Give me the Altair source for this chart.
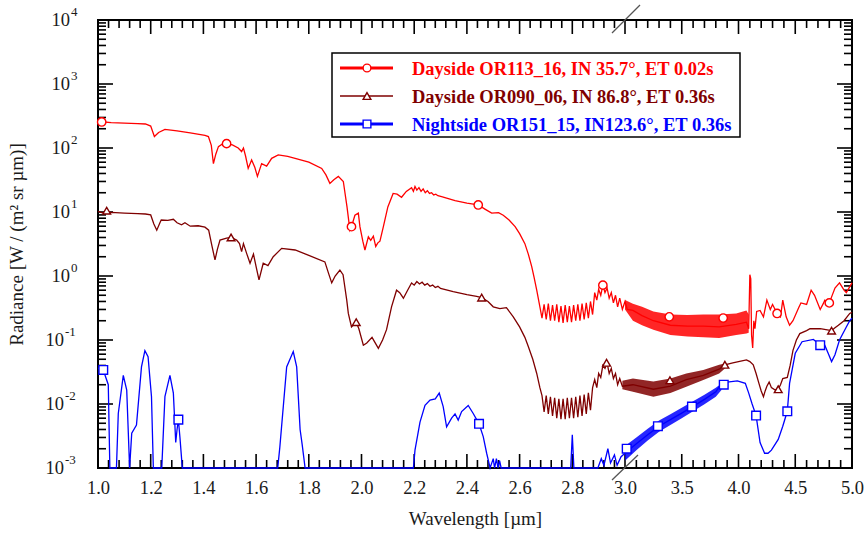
import altair as alt
import pandas as pd

# ---------------- data (wavelength um, radiance) ----------------
RED = [
    (1.00, 255), (1.014, 257), (1.05, 250), (1.10, 245), (1.15, 240), (1.18, 237), (1.20, 220),
    (1.214, 151), (1.23, 175), (1.254, 195), (1.30, 185), (1.35, 172), (1.406, 158), (1.419, 151),
    (1.43, 110), (1.438, 57), (1.447, 80), (1.457, 105), (1.475, 118), (1.488, 117), (1.51, 112),
    (1.532, 100), (1.545, 88), (1.552, 100), (1.56, 75), (1.57, 48), (1.583, 65), (1.595, 50),
    (1.605, 36), (1.621, 57), (1.64, 52), (1.659, 69), (1.684, 78), (1.72, 74), (1.748, 69),
    (1.80, 60), (1.849, 48), (1.865, 38), (1.88, 28), (1.895, 32), (1.912, 36), (1.931, 30),
    (1.945, 12), (1.956, 5.2), (1.962, 5.9), (1.975, 8.9), (1.988, 9.6), (1.994, 5.9), (2.005, 3.5),
    (2.013, 2.55), (2.026, 4.1), (2.035, 3.6), (2.045, 4.2), (2.054, 2.9), (2.062, 3.3), (2.07, 3.5),
    (2.083, 5.9), (2.10, 12), (2.12, 19.5), (2.135, 19), (2.152, 17), (2.17, 21), (2.19, 24),
    (2.197, 21), (2.203, 25), (2.21, 22), (2.218, 24), (2.226, 21), (2.234, 23), (2.242, 20),
    (2.25, 21.5), (2.258, 19.5), (2.266, 20), (2.274, 18.5), (2.282, 19), (2.29, 18), (2.304, 17.4),
    (2.355, 15), (2.40, 13.8), (2.443, 12.9), (2.47, 11), (2.494, 9.6), (2.52, 9.8), (2.538, 8.9),
    (2.56, 7.5), (2.583, 5.9), (2.60, 4.6), (2.62, 3.2), (2.633, 2.2), (2.646, 1.4), (2.655, 0.95),
    (2.665, 0.6), (2.677, 0.33),
    (2.685, 0.22), (2.693, 0.36), (2.701, 0.21), (2.709, 0.37), (2.717, 0.2), (2.725, 0.35),
    (2.733, 0.2), (2.741, 0.36), (2.749, 0.19), (2.757, 0.34), (2.765, 0.185), (2.773, 0.35),
    (2.781, 0.19), (2.789, 0.34), (2.797, 0.19), (2.805, 0.35), (2.813, 0.2), (2.821, 0.36),
    (2.829, 0.2), (2.837, 0.37), (2.845, 0.21), (2.853, 0.38), (2.861, 0.22), (2.869, 0.4),
    (2.877, 0.25), (2.885, 0.55), (2.893, 0.42), (2.90, 0.62), (2.908, 0.5), (2.916, 0.72),
    (2.924, 0.55), (2.932, 0.65), (2.94, 0.45), (2.948, 0.55), (2.956, 0.38), (2.964, 0.5),
    (2.972, 0.33), (2.98, 0.45), (2.99, 0.3), (3.0, 0.4), (3.02, 0.3),
    (3.07, 0.29), (3.15, 0.24), (3.25, 0.2), (3.4, 0.17), (3.55, 0.165), (3.69, 0.165), (3.83, 0.16),
    (3.98, 0.175), (4.07, 0.19),
    (4.09, 0.15), (4.10, 1.05), (4.108, 0.9), (4.115, 0.12), (4.125, 0.075), (4.135, 0.2),
    (4.145, 0.15), (4.16, 0.28), (4.19, 0.29), (4.22, 0.23), (4.25, 0.42), (4.28, 0.3), (4.30, 0.36),
    (4.34, 0.26), (4.37, 0.23), (4.39, 0.42), (4.42, 0.23), (4.45, 0.17), (4.48, 0.2), (4.53, 0.32),
    (4.55, 0.38), (4.60, 0.36), (4.64, 0.6), (4.67, 0.5), (4.72, 0.3), (4.75, 0.38), (4.76, 0.42),
    (4.80, 0.38), (4.85, 0.65), (4.89, 0.78), (4.93, 0.6), (4.95, 0.55), (5.0, 0.78),
]
RED_BAND_X = [3.0, 3.07, 3.15, 3.25, 3.4, 3.55, 3.69, 3.83, 3.98, 4.07, 4.09]
RED_BAND_LO = [0.3, 0.2, 0.17, 0.145, 0.12, 0.113, 0.11, 0.107, 0.12, 0.126, 0.13]
RED_BAND_HI = [0.42, 0.37, 0.33, 0.28, 0.25, 0.245, 0.25, 0.25, 0.26, 0.29, 0.25]
RED_MARKS = [(1.014, 255), (1.488, 117), (1.962, 5.9), (2.443, 12.9), (2.916, 0.72),
             (3.39, 0.23), (3.865, 0.22), (4.34, 0.26), (4.80, 0.38)]

BROWN = [
    (1.00, 10.2), (1.014, 9.8), (1.05, 9.9), (1.10, 9.6), (1.15, 9.4), (1.18, 9.3), (1.20, 9.0),
    (1.212, 6.5), (1.223, 5.2), (1.235, 6.8), (1.24, 7.5), (1.265, 7.4), (1.286, 7.7), (1.30, 6.8),
    (1.317, 6.3), (1.33, 6.8), (1.35, 6.0), (1.38, 6.1), (1.406, 5.8), (1.42, 5.2), (1.432, 3.0),
    (1.444, 1.78), (1.453, 2.6), (1.463, 3.65), (1.488, 3.9), (1.505, 4.0), (1.526, 3.65),
    (1.537, 3.2), (1.545, 2.4), (1.552, 3.2), (1.565, 2.2), (1.577, 1.58), (1.59, 2.2), (1.60, 1.4),
    (1.611, 0.87), (1.627, 1.58), (1.645, 1.45), (1.665, 2.0), (1.697, 2.7), (1.748, 2.55),
    (1.80, 2.1), (1.861, 1.66), (1.875, 1.1), (1.887, 0.78), (1.90, 1.0), (1.918, 1.24), (1.93, 1.05),
    (1.944, 0.42), (1.95, 0.26), (1.962, 0.16), (1.98, 0.19), (1.99, 0.15), (2.007, 0.083),
    (2.02, 0.09), (2.04, 0.11), (2.052, 0.09), (2.064, 0.074), (2.08, 0.1), (2.095, 0.145),
    (2.114, 0.33), (2.133, 0.6), (2.145, 0.55), (2.159, 0.45), (2.175, 0.6), (2.19, 0.78),
    (2.20, 0.72), (2.21, 0.82), (2.22, 0.75), (2.23, 0.8), (2.24, 0.72), (2.25, 0.76), (2.26, 0.69),
    (2.27, 0.72), (2.28, 0.66), (2.29, 0.69), (2.30, 0.64), (2.348, 0.57), (2.40, 0.51),
    (2.437, 0.48), (2.456, 0.46), (2.48, 0.4), (2.50, 0.33), (2.525, 0.31), (2.55, 0.32),
    (2.576, 0.23), (2.60, 0.16), (2.62, 0.11), (2.633, 0.079), (2.65, 0.05), (2.665, 0.03),
    (2.677, 0.018),
    (2.685, 0.0135), (2.693, 0.0075), (2.701, 0.0135), (2.709, 0.007), (2.717, 0.013),
    (2.725, 0.0065), (2.733, 0.0125), (2.741, 0.006), (2.749, 0.012), (2.757, 0.0058),
    (2.765, 0.012), (2.773, 0.0058), (2.781, 0.0125), (2.789, 0.006), (2.797, 0.0125),
    (2.805, 0.006), (2.813, 0.013), (2.821, 0.0062), (2.829, 0.0135), (2.837, 0.0065),
    (2.845, 0.014), (2.853, 0.007), (2.861, 0.015), (2.869, 0.008), (2.877, 0.018),
    (2.885, 0.024), (2.893, 0.018), (2.90, 0.03), (2.908, 0.026), (2.916, 0.04), (2.924, 0.036),
    (2.932, 0.044), (2.94, 0.03), (2.948, 0.036), (2.956, 0.025), (2.964, 0.03), (2.972, 0.02),
    (2.98, 0.025), (2.99, 0.019),
    (3.07, 0.02), (3.25, 0.017), (3.4, 0.019), (3.54, 0.024), (3.69, 0.028), (3.83, 0.035),
    (3.88, 0.041), (3.95, 0.044), (4.0, 0.046), (4.07, 0.049), (4.10, 0.046), (4.13, 0.041),
    (4.155, 0.03), (4.18, 0.021), (4.20, 0.016), (4.22, 0.013), (4.235, 0.016), (4.25, 0.019),
    (4.27, 0.022), (4.29, 0.018), (4.32, 0.0166), (4.35, 0.017), (4.37, 0.02), (4.39, 0.025),
    (4.43, 0.026), (4.455, 0.04), (4.48, 0.069), (4.51, 0.1), (4.54, 0.126), (4.60, 0.14),
    (4.63, 0.15), (4.68, 0.15), (4.72, 0.15), (4.77, 0.145), (4.82, 0.14), (4.85, 0.155),
    (4.88, 0.17), (4.93, 0.2), (4.98, 0.26), (5.0, 0.27),
]
BROWN_BAND_X = [2.99, 3.07, 3.25, 3.4, 3.54, 3.69, 3.83, 3.88]
BROWN_BAND_LO = [0.017, 0.0155, 0.013, 0.0148, 0.0186, 0.0237, 0.03, 0.036]
BROWN_BAND_HI = [0.023, 0.025, 0.0224, 0.025, 0.03, 0.034, 0.041, 0.043]
BROWN_MARKS = [(1.033, 10.5), (1.505, 4.0), (1.98, 0.19), (2.456, 0.46), (2.93, 0.044),
               (3.396, 0.0235), (3.88, 0.041), (4.35, 0.017), (4.82, 0.14)]

BLUE = [
    (1.00, 0.036), (1.02, 0.034), (1.039, 0.02), (1.045, 0.001), (1.07, 0.001), (1.077, 0.0071),
    (1.096, 0.028), (1.109, 0.0165), (1.12, 0.001), (1.128, 0.0035), (1.146, 0.0047), (1.165, 0.038),
    (1.178, 0.068), (1.19, 0.055), (1.203, 0.013), (1.21, 0.001), (1.242, 0.001), (1.254, 0.013),
    (1.273, 0.028), (1.286, 0.0148), (1.295, 0.0025), (1.30, 0.004), (1.305, 0.0057), (1.311, 0.003),
    (1.32, 0.001), (1.682, 0.001), (1.69, 0.0021), (1.716, 0.038), (1.741, 0.066), (1.754, 0.038),
    (1.767, 0.004), (1.775, 0.0023), (1.786, 0.001), (2.197, 0.001), (2.203, 0.0019),
    (2.222, 0.0052), (2.241, 0.0095), (2.26, 0.0115), (2.28, 0.012), (2.295, 0.0148),
    (2.31, 0.0091), (2.323, 0.0044), (2.342, 0.006), (2.355, 0.007), (2.367, 0.0056),
    (2.38, 0.0076), (2.405, 0.0095), (2.424, 0.0071), (2.446, 0.0049), (2.462, 0.0031),
    (2.475, 0.0017), (2.488, 0.001), (2.50, 0.0014), (2.505, 0.001), (2.512, 0.0014),
    (2.518, 0.001), (2.524, 0.0013), (2.53, 0.001), (2.794, 0.001), (2.80, 0.0033), (2.806, 0.001),
    (2.897, 0.001), (2.91, 0.0014), (2.92, 0.0011), (2.935, 0.002), (2.945, 0.0012), (2.96, 0.0016),
    (2.97, 0.0011), (2.985, 0.0015), (3.0, 0.0017),
    (3.1, 0.0024), (3.2, 0.0033), (3.3, 0.0045), (3.4, 0.0057), (3.5, 0.0072), (3.6, 0.0092),
    (3.7, 0.0118), (3.8, 0.0155), (3.85, 0.021), (3.9, 0.022), (3.99, 0.023), (4.06, 0.021),
    (4.09, 0.0148), (4.12, 0.01), (4.155, 0.0066), (4.19, 0.0025), (4.23, 0.0017), (4.26, 0.0017),
    (4.29, 0.0019), (4.35, 0.0028), (4.39, 0.0045), (4.43, 0.0077), (4.45, 0.021), (4.50, 0.062),
    (4.56, 0.094), (4.66, 0.102), (4.72, 0.083), (4.76, 0.083), (4.79, 0.062), (4.82, 0.046),
    (4.85, 0.059), (4.89, 0.1), (4.95, 0.16), (4.98, 0.2), (5.0, 0.22),
]
BLUE_BAND_X = [3.0, 3.1, 3.2, 3.3, 3.4, 3.5, 3.6, 3.7, 3.8, 3.85]
BLUE_BAND_LO = [0.0013, 0.0019, 0.0027, 0.0037, 0.0047, 0.006, 0.0077, 0.0099, 0.013, 0.0165]
BLUE_BAND_HI = [0.0022, 0.003, 0.0041, 0.0055, 0.0069, 0.0087, 0.011, 0.014, 0.018, 0.021]
BLUE_MARKS = [(1.02, 0.034), (1.305, 0.0057), (2.446, 0.0049), (3.015, 0.002), (3.29, 0.0045),
              (3.59, 0.0091), (3.87, 0.020), (4.155, 0.0066), (4.43, 0.0077), (4.72, 0.083)]

SERIES = ["Dayside OR113_16, IN 35.7°, ET 0.02s",
          "Dayside OR090_06, IN 86.8°, ET 0.36s",
          "Nightside OR151_15, IN123.6°, ET 0.36s"]
COLORS = ["#ff0000", "#7f0000", "#0000ff"]

X_MAJOR = [1.0, 1.2, 1.4, 1.6, 1.8, 2.0, 2.2, 2.4, 2.6, 2.8, 3.0, 3.5, 4.0, 4.5, 5.0]
X_MINOR = [round(a + 0.04 * k, 2) for a in X_MAJOR[:10] for k in range(1, 5)] + \
          [round(a + 0.1 * k, 2) for a in X_MAJOR[10:14] for k in range(1, 5)]
Y_MAJOR = [1e-3, 1e-2, 1e-1, 1e0, 1e1, 1e2, 1e3, 1e4]
Y_EXP = ["-3", "-2", "-1", "0", "1", "2", "3", "4"]
Y_MINOR = [m * 10.0 ** k for k in range(-3, 4) for m in range(2, 10)]

# ---------------- chart ----------------
W, H = 754, 448
FONT = "Liberation Serif"

xs = alt.Scale(domain=[1, 3, 5], range=[0, 527, W], nice=False, zero=False)
ys = alt.Scale(type="log", domain=[1e-3, 1e4], nice=False)

X_AXIS = alt.Axis(values=X_MAJOR, format=".1f", labelPadding=10, titlePadding=13,
                  labelFlush=False)
Y_AXIS = alt.Axis(values=Y_MAJOR, labels=False, titleX=-72, titleY=H / 2)
XT = "Wavelength [µm]"
YT = "Radiance [W / (m² sr µm)]"


def xenc(field="wl"):
    return alt.X(f"{field}:Q", scale=xs, axis=X_AXIS, title=XT)


def yenc(field="rad"):
    return alt.Y(f"{field}:Q", scale=ys, axis=Y_AXIS, title=YT)


def df(pairs):
    return pd.DataFrame({"wl": [p[0] for p in pairs], "rad": [p[1] for p in pairs]})


def band(xv, lo, hi):
    return pd.DataFrame({"wl": xv, "lo": lo, "hi": hi})


layers = []

# inward ticks on all four sides
xmaj = pd.DataFrame({"t": X_MAJOR})
xmin = pd.DataFrame({"t": X_MINOR})
ymaj = pd.DataFrame({"t": Y_MAJOR})
ymin = pd.DataFrame({"t": Y_MINOR})
for d, ln in ((xmaj, 14), (xmin, 8)):
    layers.append(alt.Chart(d).mark_rule(color="black", strokeWidth=1.6).encode(
        x=xenc("t"), y=alt.value(H), y2=alt.value(H - ln)))
    layers.append(alt.Chart(d).mark_rule(color="black", strokeWidth=1.6).encode(
        x=xenc("t"), y=alt.value(0), y2=alt.value(ln)))
for d, ln in ((ymaj, 15), (ymin, 8)):
    layers.append(alt.Chart(d).mark_rule(color="black", strokeWidth=1.6).encode(
        y=yenc("t"), x=alt.value(0), x2=alt.value(ln)))
    layers.append(alt.Chart(d).mark_rule(color="black", strokeWidth=1.6).encode(
        y=yenc("t"), x=alt.value(W), x2=alt.value(W - ln)))

# y tick labels: "10" with a raised exponent
ylab = pd.DataFrame({"t": Y_MAJOR, "e": Y_EXP})
neg = ylab[ylab["e"].str.startswith("-")]
pos = ylab[~ylab["e"].str.startswith("-")]
for d, xb in ((neg, -34), (pos, -28)):
    layers.append(alt.Chart(d).mark_text(align="right", baseline="middle", font=FONT,
                                          fontSize=18.5, color="#1a1a1a").encode(
        y=yenc("t"), x=alt.value(xb), text=alt.value("10")))
    layers.append(alt.Chart(d).mark_text(align="left", baseline="middle", font=FONT,
                                          fontSize=13, color="#1a1a1a", dy=-8).encode(
        y=yenc("t"), x=alt.value(xb + 1), text="e:N"))

# dense noisy bands
for (bx, lo, hi), col in zip(((RED_BAND_X, RED_BAND_LO, RED_BAND_HI),
                              (BROWN_BAND_X, BROWN_BAND_LO, BROWN_BAND_HI),
                              (BLUE_BAND_X, BLUE_BAND_LO, BLUE_BAND_HI)), COLORS):
    layers.append(alt.Chart(band(bx, lo, hi)).mark_area(color=col, opacity=0.85,
                                                         interpolate="linear").encode(
        x=xenc(), y=yenc("lo"), y2="hi"))

# spectra lines
for data, col in zip((RED, BROWN, BLUE), COLORS):
    layers.append(alt.Chart(df(data)).mark_line(color=col, strokeWidth=1.3).encode(
        x=xenc(), y=yenc()))

# markers
for data, col, shp, sz in zip((RED_MARKS, BROWN_MARKS, BLUE_MARKS), COLORS,
                              ("circle", "triangle-up", "square"), (70, 60, 75)):
    layers.append(alt.Chart(df(data)).mark_point(shape=shp, size=sz, filled=True, fill="white",
                                                  stroke=col, strokeWidth=1.4, opacity=1).encode(
        x=xenc(), y=yenc()))

# legend box (drawn in the plot, as in the figure)
one = alt.Data(values=[{"a": 1}])
layers.append(alt.Chart(one).mark_rect(fill="white", stroke="black", strokeWidth=1.5).encode(
    x=alt.value(234), x2=alt.value(642), y=alt.value(33), y2=alt.value(117)))
for i, (lab, col, shp, lw) in enumerate(zip(SERIES, COLORS, ("circle", "triangle-up", "square"),
                                            (3.0, 1.5, 3.0))):
    yy = 48 + i * 28
    layers.append(alt.Chart(one).mark_rule(color=col, strokeWidth=lw).encode(
        x=alt.value(242), x2=alt.value(295), y=alt.value(yy)))
    layers.append(alt.Chart(one).mark_point(shape=shp, size=60, filled=True, fill="white",
                                             stroke=col, strokeWidth=1.4, opacity=1).encode(
        x=alt.value(269), y=alt.value(yy)))
    layers.append(alt.Chart(one).mark_text(align="left", baseline="middle", font=FONT,
                                            fontSize=18.5, fontWeight="bold", color=col).encode(
        x=alt.value(314), y=alt.value(yy + 1), text=alt.value(lab)))

# axis break marks at 3.0 um
layers.append(alt.Chart(one).mark_rule(color="#555555", strokeWidth=1.3).encode(
    x=alt.value(514), x2=alt.value(542), y=alt.value(13), y2=alt.value(-15)))
layers.append(alt.Chart(one).mark_rule(color="#555555", strokeWidth=1.3).encode(
    x=alt.value(514), x2=alt.value(540), y=alt.value(460), y2=alt.value(435)))

chart = alt.layer(*layers).properties(
    width=W, height=H,
    autosize=alt.AutoSizeParams(type="none"),
    padding={"left": 98, "top": 20, "right": 15, "bottom": 69},
).configure_view(stroke="black", strokeWidth=2).configure_axis(
    domain=False, ticks=False, grid=False,
    labelFont=FONT, labelFontSize=18.5, labelColor="#1a1a1a",
    titleFont=FONT, titleFontSize=19, titleFontWeight="normal", titleColor="#1a1a1a",
)

chart.save("out.html", embed_options={"renderer": "svg", "actions": False})
